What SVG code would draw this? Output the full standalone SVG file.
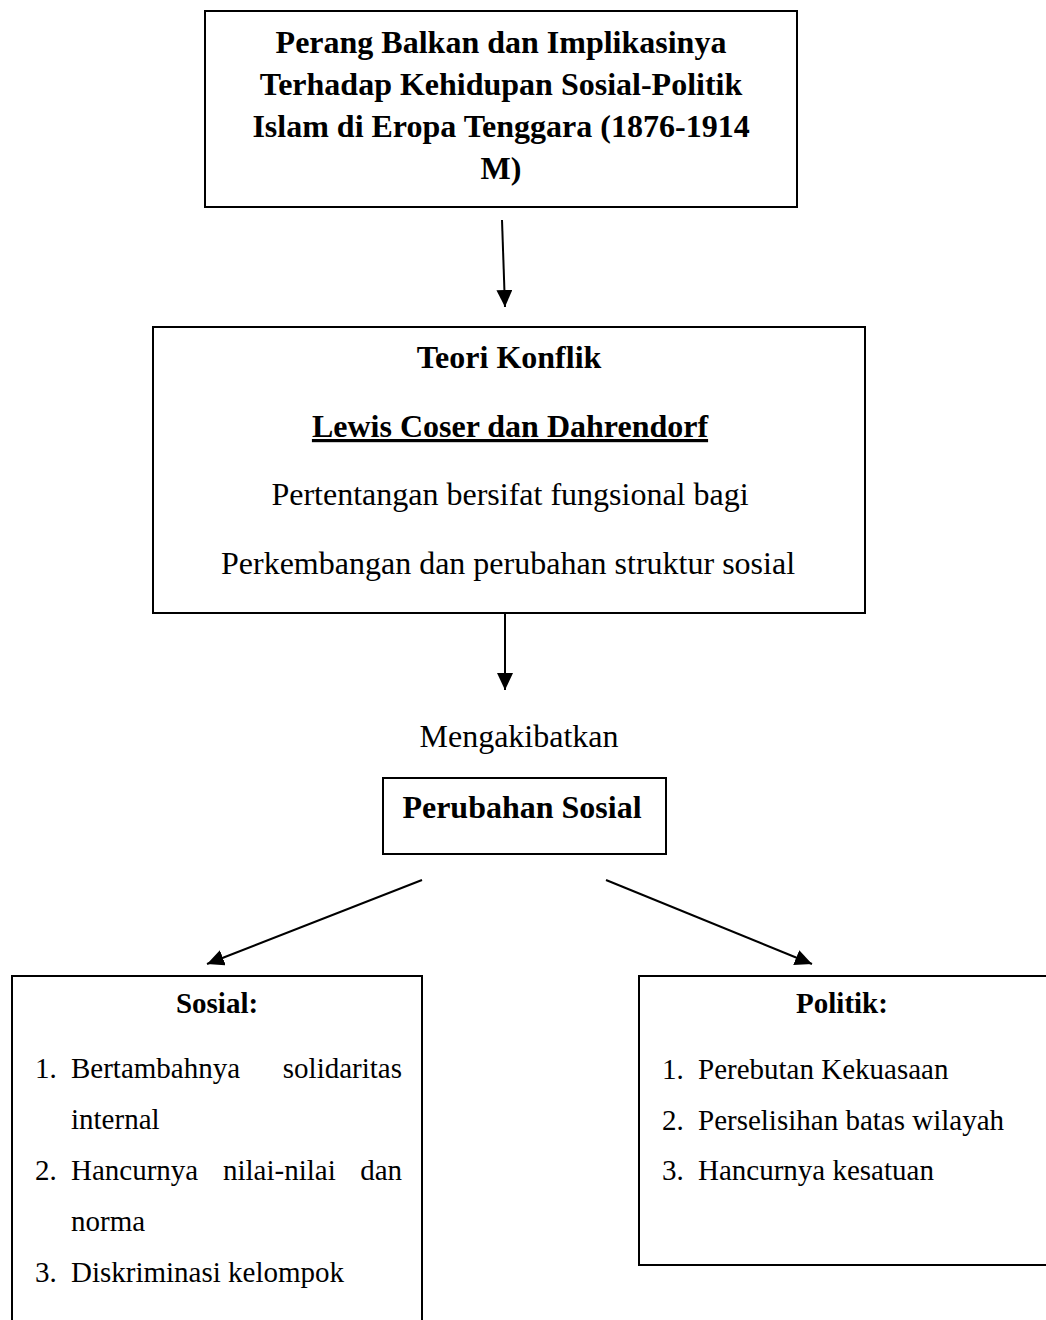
<svg xmlns="http://www.w3.org/2000/svg" width="1046" height="1320" viewBox="0 0 1046 1320">
<style>
.box{fill:#fff;stroke:#000;stroke-width:2}
.t{font-family:"Liberation Serif","Times New Roman",serif;fill:#000}
.b{font-weight:bold}
.c{text-anchor:middle}
.r{text-anchor:end}
.f32{font-size:32px}
.f29{font-size:29px}
.con{stroke:#000;stroke-width:2;fill:none}
</style>
<defs>
<marker id="ah" markerUnits="userSpaceOnUse" markerWidth="18" markerHeight="18" refX="17" refY="8" orient="auto">
<path d="M0,0 L17,8 L0,16 Z" fill="#000"/>
</marker>
</defs>
<rect width="1046" height="1320" fill="#fff"/>
<g id="connectors">
<line class="con" x1="502" y1="220" x2="505" y2="307" marker-end="url(#ah)"/>
<line class="con" x1="505" y1="613" x2="505" y2="690" marker-end="url(#ah)"/>
<line class="con" x1="422" y1="880" x2="207" y2="964" marker-end="url(#ah)"/>
<line class="con" x1="606" y1="880" x2="812" y2="964" marker-end="url(#ah)"/>
</g>
<g id="node-title">
<rect class="box" x="205" y="11" width="592" height="196"/>
<text class="t b c f32" x="501" y="53">Perang Balkan dan Implikasinya</text>
<text class="t b c f32" x="501" y="95">Terhadap Kehidupan Sosial-Politik</text>
<text class="t b c f32" x="501" y="137">Islam di Eropa Tenggara (1876-1914</text>
<text class="t b c f32" x="501" y="179">M)</text>
</g>
<g id="node-teori">
<rect class="box" x="153" y="327" width="712" height="286"/>
<text class="t b c f32" x="509" y="368">Teori Konflik</text>
<text class="t b c f32" x="510" y="437" text-decoration="underline">Lewis Coser dan Dahrendorf</text>
<text class="t c f32" x="510" y="505">Pertentangan bersifat fungsional bagi</text>
<text class="t c f32" x="508" y="574">Perkembangan dan perubahan struktur sosial</text>
</g>
<g id="label-mengakibatkan">
<text class="t c f32" x="519" y="747">Mengakibatkan</text>
</g>
<g id="node-perubahan">
<rect class="box" x="383" y="778" width="283" height="76"/>
<text class="t b c f32" x="522" y="818">Perubahan Sosial</text>
</g>
<g id="node-sosial">
<path class="box" d="M12,1321 V976 H422 V1321"/>
<text class="t b c f29" x="217" y="1013">Sosial:</text>
<text class="t f29" x="35" y="1078">1.</text>
<text class="t f29" x="71" y="1078">Bertambahnya</text>
<text class="t r f29" x="402" y="1078">solidaritas</text>
<text class="t f29" x="71" y="1129">internal</text>
<text class="t f29" x="35" y="1180">2.</text>
<text class="t f29" x="71" y="1180">Hancurnya</text>
<text class="t f29" x="223" y="1180">nilai-nilai</text>
<text class="t r f29" x="402" y="1180">dan</text>
<text class="t f29" x="71" y="1231">norma</text>
<text class="t f29" x="35" y="1282">3.</text>
<text class="t f29" x="71" y="1282">Diskriminasi kelompok</text>
</g>
<g id="node-politik">
<rect class="box" x="639" y="976" width="410" height="289"/>
<text class="t b c f29" x="842" y="1013">Politik:</text>
<text class="t f29" x="662" y="1079">1.</text>
<text class="t f29" x="698" y="1079">Perebutan Kekuasaan</text>
<text class="t f29" x="662" y="1130">2.</text>
<text class="t f29" x="698" y="1130">Perselisihan batas wilayah</text>
<text class="t f29" x="662" y="1180">3.</text>
<text class="t f29" x="698" y="1180">Hancurnya kesatuan</text>
</g>
</svg>
